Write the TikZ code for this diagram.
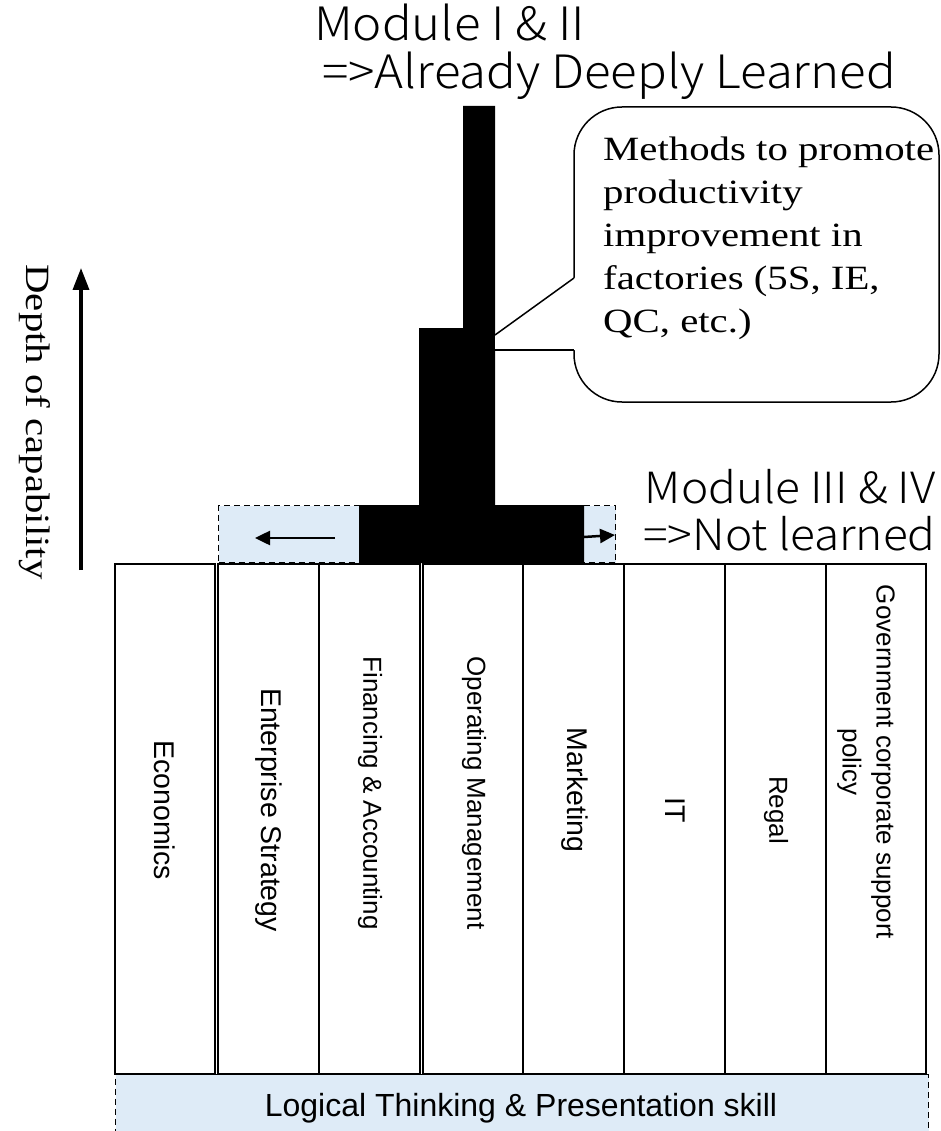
\documentclass[tikz,border=0pt]{standalone}
\usepackage{fontspec}
\setmainfont{Liberation Serif}
\newfontfamily\arialfont{Liberation Sans}
\IfFontExistsTF{Noto Sans CJK JP Light}
  {\newfontfamily\gothicfont[FakeStretch=1.07]{Noto Sans CJK JP Light}}
  {\newfontfamily\gothicfont[FakeStretch=1.07]{Noto Sans CJK JP}}
\newfontfamily\widenotefont[FakeStretch=1.2]{Liberation Serif}
\usetikzlibrary{arrows.meta}
\definecolor{paleblue}{RGB}{222,235,247}
\newcommand\collabelfont{\arialfont\fontsize{26}{34}\selectfont}
\newcommand\bigcollabelfont{\arialfont\fontsize{28.5}{34}\selectfont}
\newcommand\bandfont{\arialfont\fontsize{32}{36}\selectfont}
\newcommand\headingfont{\gothicfont\fontsize{46}{48}\selectfont}
\newcommand\subheadingfont{\gothicfont\fontsize{43}{48}\selectfont}
\newcommand\notefont{\widenotefont\fontsize{34}{43}\selectfont}
\begin{document}
\begin{tikzpicture}[x=1pt,y=-1pt,
  colbox/.style={draw=black, line width=1.3pt},
  collabel/.style={font=\collabelfont, rotate=-90, align=center, inner sep=0pt},
  headline/.style={font=\headingfont, anchor=base west, inner sep=0pt},
  subheadline/.style={font=\subheadingfont, anchor=base east, inner sep=0pt},
  zone/.style={fill=paleblue, draw=black, line width=1.2pt, dash pattern=on 6pt off 4pt},
  shiftarrow/.style={-{Triangle[length=15pt,width=14pt]}, line width=2.5pt},
  outline/.style={draw=black, line width=1.5pt},
]
\useasboundingbox (0,0) rectangle (941,1131);

% headings
\node[headline] (mod12a) at (314,41) {Module I \& II};
\node[headline] (mod12b) at (322,89) {=>Already Deeply Learned};
\node[subheadline] (mod34a) at (936,503) {Module III \& IV};
\node[subheadline] (mod34b) at (936,550) {=>Not learned};

% spreading zone behind the base of the profile
\node[zone, anchor=north west, minimum width=397pt, minimum height=57pt, inner sep=0pt] (spread) at (218,505) {};

% capability profile
\fill[black] (463,106) -- (495,106) -- (495,505) -- (584,505) -- (584,563)
  -- (359,563) -- (359,505) -- (419,505) -- (419,328) -- (463,328) -- cycle;

% arrows showing the widening
\coordinate (lfrom) at (335,538);
\coordinate (lto) at (255,538);
\coordinate (rfrom) at (584,537);
\coordinate (rto) at (615,535);
\draw[shiftarrow] (lfrom) -- (lto);
\draw[shiftarrow] (rfrom) -- (rto);

% speech bubble
\coordinate (tip) at (495,335);
\coordinate (tipup) at (574,278);
\coordinate (tiplow) at (574,350);
\coordinate (tipin) at (495,350);
\draw[outline, fill=white, rounded corners=48pt] (574,107) rectangle (939,402);
\fill[white] (tip) -- (tipup) -- (578,278) -- (578,350) -- (tipin) -- cycle;
\draw[outline] (tipup) -- (tip);
\draw[outline] (tipin) -- (tiplow);
% the base anchor of a multi-line node sits on its last line
\node[anchor=base west, align=left, inner sep=0pt, font=\notefont] (note) at (603,332)
  {Methods to promote\\productivity\\improvement in\\factories (5S, IE,\\QC, etc.)};

% depth axis
\coordinate (axlow) at (81,570);
\coordinate (axhigh) at (81,268);
\draw[-{Triangle[length=22pt,width=16pt]}, line width=3.5pt] (axlow) -- (axhigh);
\node[rotate=-90, inner sep=0pt, font=\notefont] (axis) at (35,422) {Depth of capability};

% subject columns
\foreach \l/\r in {115/215, 218/319, 319/420, 423/523, 523/624, 624/725, 725/826, 826/926}
  \draw[colbox] (\l,564) rectangle (\r,1074);

\node[collabel, font=\bigcollabelfont] (c1) at (165,810) {Economics};
\node[collabel, font=\bigcollabelfont] (c2) at (268.5,810) {Enterprise Strategy};
\node[collabel] (c3) at (370,793) {Financing \& Accounting};
\node[collabel] (c4) at (474,793) {Operating Management};
\node[collabel, font=\bigcollabelfont] (c5) at (575,790) {Marketing};
\node[collabel, font=\bigcollabelfont] (c6) at (675,810) {IT};
\node[collabel] (c7) at (776,810) {Regal};
\node[collabel] (c8) at (866,762) {Government corporate support\\policy};

% foundation band
\node[zone, anchor=north west, minimum width=813pt, minimum height=80pt, inner sep=0pt] (base) at (115,1074) {};
\node[font=\bandfont, anchor=base, inner sep=0pt] (basetext) at (521,1116) {Logical Thinking \& Presentation skill};
\end{tikzpicture}
\end{document}
